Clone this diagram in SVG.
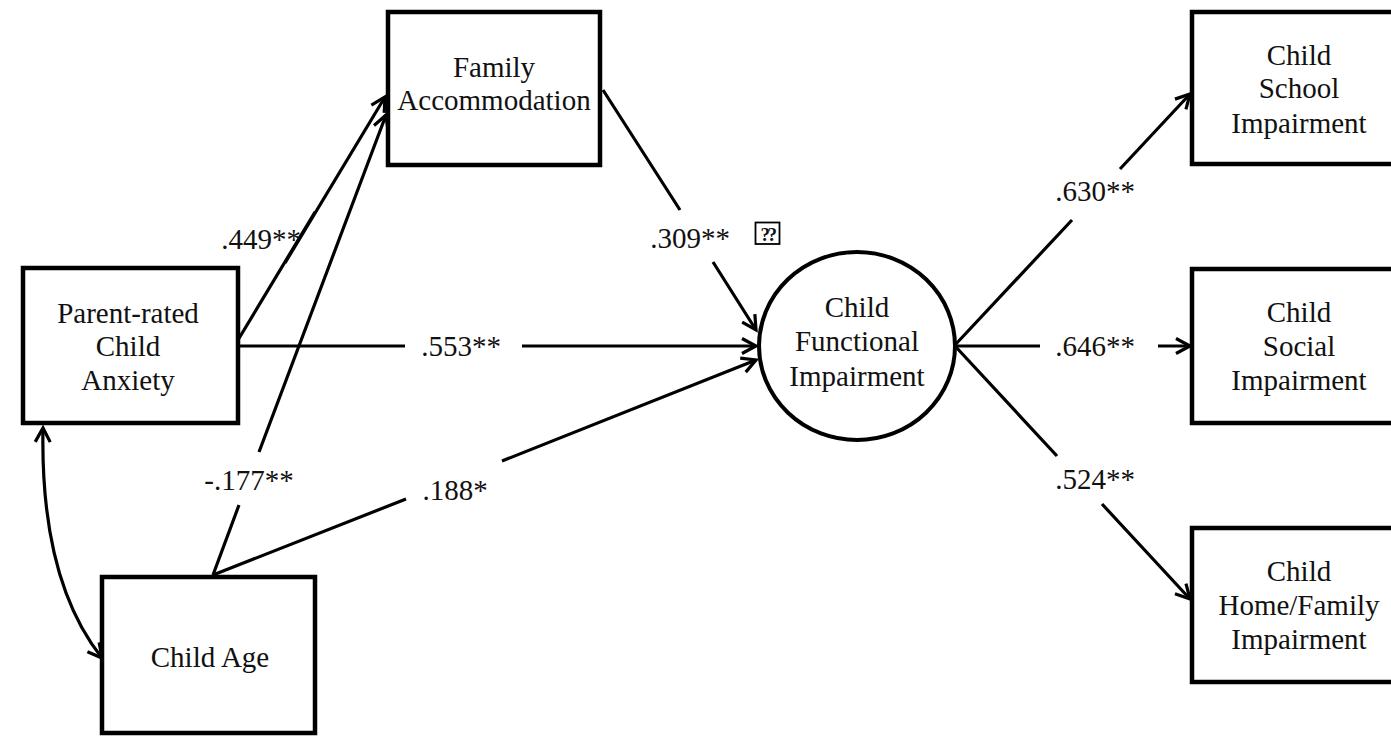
<svg xmlns="http://www.w3.org/2000/svg" width="1391" height="740" viewBox="0 0 1391 740">
<style>
.box{fill:#fff;stroke:#000;stroke-width:4.5}
.ell{fill:#fff;stroke:#000;stroke-width:4}
.t{font-family:"Liberation Serif","Times New Roman",serif;font-size:29px;fill:#111;text-anchor:middle}
.c{fill:none;stroke:#000;stroke-width:3.2}
</style>
<defs>
<marker id="ah" viewBox="-18 -10 22 20" refX="0" refY="0" markerWidth="22" markerHeight="20" markerUnits="userSpaceOnUse" orient="auto-start-reverse">
<path d="M-14,-7.5 L0,0 L-14,7.5" fill="none" stroke="#000" stroke-width="3.2"/>
</marker>
</defs>
<rect width="1391" height="740" fill="#fff"/>
<g id="connectors">
<path class="c" d="M238,340 L315,212 M285,263 L385,97" marker-end="url(#ah)"/>
<path class="c" d="M213,575 L239,505 M259,452 L386,115" marker-end="url(#ah)"/>
<path class="c" d="M238,346 L405,346 M522,346 L756,346" marker-end="url(#ah)"/>
<path class="c" d="M213,575 L406,499 M502,461 L756,360" marker-end="url(#ah)"/>
<path class="c" d="M603,90 L680,210 M713,262 L756,330" marker-end="url(#ah)"/>
<path class="c" d="M955,345 L1072,220 M1120,169 L1190,94" marker-end="url(#ah)"/>
<path class="c" d="M955,346 L1040,346 M1158,346 L1190,346" marker-end="url(#ah)"/>
<path class="c" d="M955,346 L1057,456 M1102,504 L1190,599" marker-end="url(#ah)"/>
<path class="c" d="M43,428 Q40,580 102,658" marker-start="url(#ah)" marker-end="url(#ah)"/>
<text class="t" x="261" y="249">.449**</text>
<text class="t" x="249" y="490">-.177**</text>
<text class="t" x="461" y="356">.553**</text>
<text class="t" x="455" y="500">.188*</text>
<text class="t" x="690" y="248">.309**</text>
<rect x="755.5" y="222.5" width="24" height="21.5" fill="none" stroke="#000" stroke-width="1.8"/>
<text x="767.5" y="240.5" font-family="Liberation Serif, serif" font-size="19" font-weight="bold" text-anchor="middle" letter-spacing="-2.5" fill="#111">??</text>
<text class="t" x="1095" y="201">.630**</text>
<text class="t" x="1095" y="356">.646**</text>
<text class="t" x="1095" y="489">.524**</text>
</g>
<g id="family-accommodation">
<rect class="box" x="388" y="12" width="212" height="153"/>
<text class="t" x="494" y="77">Family</text>
<text class="t" x="494" y="110">Accommodation</text>
</g>
<g id="parent-anxiety">
<rect class="box" x="23" y="268" width="215" height="155"/>
<text class="t" x="128" y="323">Parent-rated</text>
<text class="t" x="128" y="356">Child</text>
<text class="t" x="128" y="390">Anxiety</text>
</g>
<g id="child-age">
<rect class="box" x="102" y="577" width="213" height="156"/>
<text class="t" x="210" y="667">Child Age</text>
</g>
<g id="functional-impairment">
<ellipse class="ell" cx="857" cy="346" rx="98" ry="94"/>
<text class="t" x="857" y="317">Child</text>
<text class="t" x="857" y="351">Functional</text>
<text class="t" x="857" y="386">Impairment</text>
</g>
<g id="school-impairment">
<rect class="box" x="1192" y="12" width="214" height="152"/>
<text class="t" x="1299" y="65">Child</text>
<text class="t" x="1299" y="98">School</text>
<text class="t" x="1299" y="133">Impairment</text>
</g>
<g id="social-impairment">
<rect class="box" x="1192" y="269" width="214" height="154"/>
<text class="t" x="1299" y="322">Child</text>
<text class="t" x="1299" y="356">Social</text>
<text class="t" x="1299" y="390">Impairment</text>
</g>
<g id="home-impairment">
<rect class="box" x="1192" y="528" width="214" height="154"/>
<text class="t" x="1299" y="581">Child</text>
<text class="t" x="1299" y="615">Home/Family</text>
<text class="t" x="1299" y="649">Impairment</text>
</g>
</svg>
